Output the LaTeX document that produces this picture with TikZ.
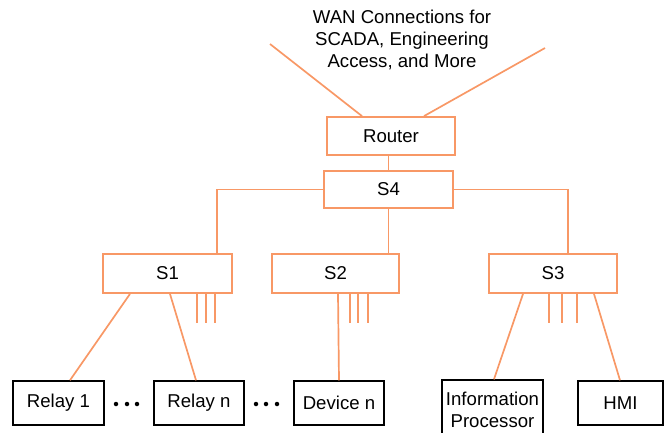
\documentclass[tikz,border=0pt]{standalone}
\usepackage{fontspec}
\setmainfont{Liberation Sans}
\usetikzlibrary{positioning}
\definecolor{netorange}{RGB}{248,152,102}

\begin{document}
\begin{tikzpicture}[
    x=1pt, y=-1pt,
    every node/.style={font=\fontsize{18.6}{22}\selectfont},
    % Switch and router boxes
    switchbox/.style={
      rectangle, draw=netorange, line width=1.8pt, fill=white,
      minimum width=128pt, minimum height=38pt, inner sep=0pt
    },
    % End devices
    devbox/.style={
      rectangle, draw=black, line width=1.5pt, fill=white,
      minimum width=90pt, minimum height=44pt, inner sep=0pt
    },
    % Links
    link/.style={draw=netorange, line width=1.7pt},
    stub/.style={draw=netorange, line width=1.7pt},
    dotmark/.style={circle, fill=black, inner sep=0pt, minimum size=4.5pt}
  ]
  \useasboundingbox (0,0) rectangle (665,432);

  % ============ WAN ============
  \node[align=center] (wan) at (402,40)
    {WAN Connections for\\SCADA, Engineering\\Access, and More};
  \coordinate (wanL) at (270,44);
  \coordinate (wanR) at (545,48);

  % ============ Router and core switch ============
  \node[switchbox] (router) at (391,136) {Router};
  \node[switchbox, minimum width=129pt, minimum height=37pt] (s4) at (388.5,189.5) {S4};

  % ============ Access switches ============
  \node[switchbox, minimum width=129pt, minimum height=39pt] (s1) at (167.5,273.5) {S1};
  \node[switchbox, minimum width=127pt, minimum height=39pt] (s2) at (335.5,273.5) {S2};
  \node[switchbox, minimum height=39pt] (s3) at (553,273.5) {S3};

  % ============ Devices ============
  \node[devbox, minimum width=91pt] (relayone) at (58.5,403) {Relay 1};
  \node[devbox] (relayn) at (199,403) {Relay n};
  \node[devbox] (devn) at (339,403) {Device n};
  \node[devbox, minimum width=101pt, minimum height=60pt, align=center] (infoproc) at (492.5,410)
    {Information\\Processor};
  \node[devbox, minimum width=85pt] (hmi) at (620.5,403) {HMI};

  % ============ Dots ============
  \node[dotmark] (dota1) at (116,404) {};
  \node[dotmark] (dota2) at (127,404) {};
  \node[dotmark] (dota3) at (137,404) {};
  \node[dotmark] (dotb1) at (256,404) {};
  \node[dotmark] (dotb2) at (266,404) {};
  \node[dotmark] (dotb3) at (277,404) {};

  % ============ Upper links ============
  \draw[link] (wanL) -- ([xshift=-29pt]router.north);
  \draw[link] (wanR) -- ([xshift=33pt]router.north);
  \draw[link] (s4.north |- router.south) -- (s4.north);
  \draw[link] (s4.west) -| ([xshift=49.5pt]s1.north);
  \draw[link] (s4.south) -- (s4.south |- s2.north);
  \draw[link] (s4.east) -| ([xshift=15pt]s3.north);

  % ============ Lower links ============
  \draw[link] ([xshift=-37.5pt]s1.south) -- ([xshift=11.5pt]relayone.north);
  \draw[link] ([xshift=2.5pt]s1.south) -- ([xshift=-3pt]relayn.north);
  \draw[link] ([xshift=2.5pt]s2.south) -- (devn.north);
  \draw[link] ([xshift=-30pt]s3.south) -- ([xshift=1.5pt]infoproc.north);
  \draw[link] ([xshift=41pt]s3.south) -- ([xshift=-0.5pt]hmi.north);

  % ============ Unused ports ============
  \foreach \dx in {29.5,38.5,47.5}
    \draw[stub] ([xshift=\dx pt]s1.south) -- ++(0,29);
  \foreach \dx in {14.5,22.5,32.5}
    \draw[stub] ([xshift=\dx pt]s2.south) -- ++(0,29);
  \foreach \dx in {-4,9,24}
    \draw[stub] ([xshift=\dx pt]s3.south) -- ++(0,29);

\end{tikzpicture}
\end{document}
